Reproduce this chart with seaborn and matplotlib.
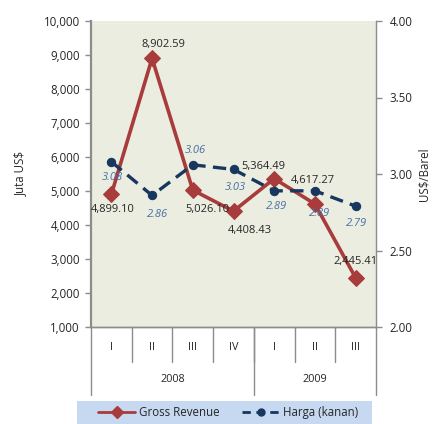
import matplotlib
matplotlib.use("Agg")
import matplotlib.pyplot as plt
import matplotlib.patches as mpatches
import seaborn as sns
import pandas as pd
import numpy as np

# Quarterly data
quarters = ["I", "II", "III", "IV", "I", "II", "III"]
years = ["2008", "2009"]
year_counts = [4, 3]
gross_revenue = [4899.10, 8902.59, 5026.10, 4408.43, 5364.49, 4617.27, 2445.41]
harga = [3.08, 2.86, 3.06, 3.03, 2.89, 2.89, 2.79]

df = pd.DataFrame({
    "pos": np.arange(len(quarters)),
    "revenue": gross_revenue,
    "harga": harga,
})

sns.set_style("white")
plt.rcParams["font.family"] = ["Open Sans", "DejaVu Sans"]

RED = "#a83b3b"
NAVY = "#17375e"
LBLUE = "#4a6fa5"
GRAY = "#8c8c8c"
TXT = "#262626"

fig = plt.figure(figsize=(4.36, 4.24), dpi=100)
W, H = 436, 424
ax = fig.add_axes([91 / W, 1 - 327 / H, (376 - 91) / W, (327 - 21) / H])
ax.set_facecolor("#eaeddf")
ax2 = ax.twinx()

sns.lineplot(data=df, x="pos", y="revenue", ax=ax, color=RED, lw=2.6,
             marker="D", markersize=8, markeredgecolor=RED, sort=False,
             label="Gross Revenue", legend=False, zorder=3)
sns.lineplot(data=df, x="pos", y="harga", ax=ax2, color=NAVY, lw=2.4,
             marker="o", markersize=6, markeredgecolor=NAVY, sort=False,
             label="Harga (kanan)", legend=False, zorder=4)
ax2.lines[0].set_dashes([4, 2.2])

ax.set_xlim(-0.5, len(quarters) - 0.5)
ax.set_ylim(1000, 10000)
ax2.set_ylim(2.0, 4.0)
ax.set_yticks(np.arange(1000, 10001, 1000))
ax.set_yticklabels([f"{v:,.0f}" for v in np.arange(1000, 10001, 1000)])
ax2.set_yticks(np.arange(2.0, 4.01, 0.5))
ax2.set_yticklabels([f"{v:.2f}" for v in np.arange(2.0, 4.01, 0.5)])
ax.set_xticks([])
ax.set_xlabel("")
ax2.set_xlabel("")
ax.set_ylabel("Juta US$", fontsize=8.3, color=TXT)
ax2.set_ylabel("US$/Barel", fontsize=8.3, color=TXT, rotation=90)
ax.yaxis.set_label_coords(-(91 - 27) / (376 - 91), 0.5)
ax2.yaxis.set_label_coords(1 + (417 - 376) / (376 - 91), 0.5)

for a in (ax, ax2):
    for s in a.spines.values():
        s.set_color(GRAY)
        s.set_linewidth(1.0)
    a.spines["top"].set_visible(False)
ax.spines["left"].set_linewidth(1.6)
ax2.spines["left"].set_visible(False)
ax.spines["right"].set_visible(False)
ax.tick_params(axis="y", direction="out", length=4, width=1, color=GRAY,
               labelsize=8.3, labelcolor=TXT, left=True, pad=4)
ax2.tick_params(axis="y", direction="out", length=4, width=1, color=GRAY,
                labelsize=8.3, labelcolor=TXT, right=True, pad=6)

# Value labels for revenue (offsets in pixels)
rev_off = [(1, -15), (11, 14), (15, -19), (16, -19), (-11, 12), (-2, 24), (0, 16)]
for i, (v, (dx, dy)) in enumerate(zip(gross_revenue, rev_off)):
    ax.annotate(f"{v:,.2f}", (i, v), xytext=(dx, dy), textcoords="offset pixels",
                ha="center", va="center", fontsize=8, color=TXT, zorder=6)

# Value labels for price (offsets in pixels)
h_off = [(1, -16), (5, -19), (3, 14), (2, -18), (2, -16), (5, -23), (1, -17)]
for i, (v, (dx, dy)) in enumerate(zip(harga, h_off)):
    ax2.annotate(f"{v:.2f}", (i, v), xytext=(dx, dy), textcoords="offset pixels",
                 ha="center", va="center", fontsize=8, color=LBLUE,
                 style="italic", zorder=6)

# Category axis: quarters and years below the plot
trans = ax.get_xaxis_transform()
y_q = -(347 - 327) / (327 - 21)
y_sep = -(362 - 327) / (327 - 21)
y_yr = -(380 - 327) / (327 - 21)
y_end = -(395 - 327) / (327 - 21)
for i, q in enumerate(quarters):
    ax.text(i, y_q, q, transform=trans, ha="center", va="center",
            fontsize=7.8, color=TXT)
for b in np.arange(0.5, len(quarters) - 1, 1.0):
    ax.plot([b, b], [0, y_sep], transform=trans, color=GRAY, lw=1,
            clip_on=False)
start = -0.5
bounds = [start]
for yr, n in zip(years, year_counts):
    ax.text(start + n / 2, y_yr, yr, transform=trans, ha="center",
            va="center", fontsize=7.8, color=TXT)
    start += n
    bounds.append(start)
for b in bounds:
    ax.plot([b, b], [0, y_end], transform=trans, color=GRAY, lw=1,
            clip_on=False)

# Legend on a light blue band
fig.add_artist(mpatches.Rectangle((77 / W, 0), (372 - 77) / W, 23 / H,
                                  transform=fig.transFigure,
                                  facecolor="#c6d9f0", edgecolor="none"))
h1 = plt.Line2D([], [], color=RED, lw=2, marker="D", markersize=6)
h2 = plt.Line2D([], [], color=NAVY, lw=2, marker="o", markersize=5,
                dashes=[3, 2])
fig.legend([h1, h2], ["Gross Revenue", "Harga (kanan)"], ncol=2,
           loc="center", bbox_to_anchor=(228 / W, 11.5 / H), frameon=False,
           fontsize=8.3, handlelength=3.2, columnspacing=2.0,
           handletextpad=0.3, labelcolor=TXT)

fig.savefig("out.png", dpi=100)
